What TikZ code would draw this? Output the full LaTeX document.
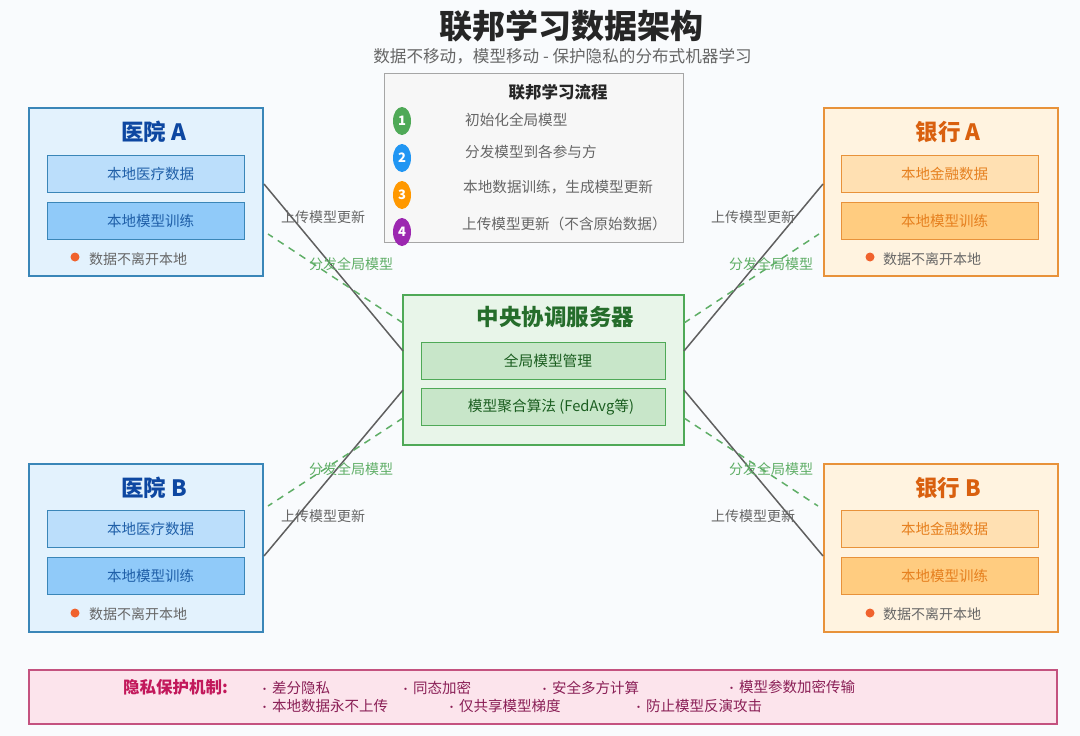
\documentclass[tikz,border=0pt]{standalone}
\usepackage{fontspec}
\setmainfont{Noto Sans CJK SC}
\usetikzlibrary{shapes.geometric}
\definecolor{bgc}{HTML}{F9FBFD}
\definecolor{bluebd}{HTML}{3A86B8}\definecolor{bluefl}{HTML}{E3F2FD}\definecolor{bluea}{HTML}{BBDEFB}\definecolor{blueb}{HTML}{90CAF9}\definecolor{bluet}{HTML}{0D47A1}\definecolor{blueit}{HTML}{1F5FA8}
\definecolor{orbd}{HTML}{E8923A}\definecolor{orfl}{HTML}{FFF3E0}\definecolor{ora}{HTML}{FFE0B2}\definecolor{orb}{HTML}{FFCC80}\definecolor{ort}{HTML}{D9600F}\definecolor{orit}{HTML}{E6801F}
\definecolor{grbd}{HTML}{4FA957}\definecolor{grfl}{HTML}{E8F5E9}\definecolor{gra}{HTML}{C8E6C9}\definecolor{grt}{HTML}{1B5E20}
\definecolor{pkbd}{HTML}{C4527F}\definecolor{pkfl}{HTML}{FCE4EC}\definecolor{pkt}{HTML}{C2185B}\definecolor{pkit}{HTML}{8A1F56}
\definecolor{greyt}{HTML}{666666}\definecolor{lnc}{HTML}{5F5F5F}\definecolor{dashc}{HTML}{5FAE66}\definecolor{notec}{HTML}{F0622D}
\definecolor{stepb}{HTML}{2196F3}\definecolor{stepo}{HTML}{FF9800}\definecolor{stepp}{HTML}{9C27B0}
\newcommand{\privbullet}{\makebox[10pt][l]{\hspace{-3pt}\fontsize{11}{11}\selectfont•}}
\tikzset{
  txt/.style={inner sep=0pt,font=\fontsize{#1}{#1}\selectfont},
  outerbox/.style={draw=#1,line width=2pt,minimum width=234pt,minimum height=168pt,inner sep=0pt},
  innerbox/.style={draw=#1,line width=0.9pt,minimum width=197pt,minimum height=37pt,inner sep=0pt},
  srvbox/.style={draw=grbd,fill=gra,line width=0.8pt,minimum width=244pt,minimum height=37pt,inner sep=0pt},
  inlab/.style={txt=14.5},
  srvlab/.style={txt=14.7,text=grt},
  upline/.style={draw=lnc,line width=1.5pt},
  downline/.style={draw=dashc,line width=1.5pt,dash pattern=on 7pt off 6pt},
  uplab/.style={txt=14,text=greyt},
  downlab/.style={txt=14,text=dashc},
  titlelab/.style={inner sep=0pt,font=\fontsize{22.5}{22.5}\selectfont\bfseries},
  notedot/.style={circle,fill=notec,minimum size=9pt,inner sep=0pt},
  stepdot/.style={ellipse,minimum width=18pt,minimum height=28pt,inner sep=0pt,text=white,font=\fontsize{13}{13}\selectfont\bfseries},
  steplab/.style={txt=14.6,text=greyt,anchor=west},
  privlab/.style={txt=14.5,text=pkit,anchor=west},
}
\begin{document}
\begin{tikzpicture}[x=1pt,y=-1pt]
\useasboundingbox (0,0) rectangle (1080,736);
\fill[bgc] (0,0) rectangle (1080,736);

\node[inner sep=0pt,font=\fontsize{33}{33}\selectfont\bfseries,text=black!85] (title) at (571,26) {联邦学习数据架构};
\node[txt=16.6,text=greyt] (subtitle) at (562.5,56) {数据不移动，模型移动 - 保护隐私的分布式机器学习};

% flow box
\node[draw=black!35,fill=black!3,line width=1pt,minimum width=299pt,minimum height=169pt,inner sep=0pt] (flow) at (533.5,157.5) {};
\node[inner sep=0pt,font=\fontsize{16.5}{16.5}\selectfont\bfseries,text=black!85] (flowt) at (558,92) {联邦学习流程};
\node[stepdot,fill=grbd] (s1) at (402,121) {1};
\node[stepdot,fill=stepb] (s2) at (402,158) {2};
\node[stepdot,fill=stepo] (s3) at (402,195) {3};
\node[stepdot,fill=stepp] (s4) at (402,232) {4};
\node[steplab] (l1) at (465,120) {初始化全局模型};
\node[steplab] (l2) at (465,152) {分发模型到各参与方};
\node[steplab] (l3) at (463,187) {本地数据训练，生成模型更新};
\node[steplab] (l4) at (462,224) {上传模型更新（不含原始数据）};

% parties
\node[outerbox=bluebd,fill=bluefl] (ha) at (146,192) {};
\node[outerbox=bluebd,fill=bluefl] (hb) at (146,547.5) {};
\node[outerbox=orbd,fill=orfl] (ba) at (940.5,192) {};
\node[outerbox=orbd,fill=orfl] (bb) at (940.5,547.5) {};

\node[titlelab,text=bluet] (hat) at (154,132) {医院 A};
\node[innerbox=bluebd,fill=bluea] (ha1) at (145.5,173.5) {};
\node[innerbox=bluebd,fill=blueb] (ha2) at (145.5,220.5) {};
\node[inlab,text=blueit] (ha1t) at (150.5,174) {本地医疗数据};
\node[inlab,text=blueit] (ha2t) at (150.5,221) {本地模型训练};
\node[notedot] (had) at (75,257) {};
\node[txt=14,text=greyt] (han) at (138,259) {数据不离开本地};

\node[titlelab,text=bluet] (hbt) at (154,488) {医院 B};
\node[innerbox=bluebd,fill=bluea] (hb1) at (145.5,528.5) {};
\node[innerbox=bluebd,fill=blueb] (hb2) at (145.5,575.5) {};
\node[inlab,text=blueit] (hb1t) at (150.5,529) {本地医疗数据};
\node[inlab,text=blueit] (hb2t) at (150.5,576) {本地模型训练};
\node[notedot] (hbd) at (75,613) {};
\node[txt=14,text=greyt] (hbn) at (138,614) {数据不离开本地};

\node[titlelab,text=ort] (bat) at (948,132) {银行 A};
\node[innerbox=orbd,fill=ora] (ba1) at (940,173.5) {};
\node[innerbox=orbd,fill=orb] (ba2) at (940,220.5) {};
\node[inlab,text=orit] (ba1t) at (944.5,174) {本地金融数据};
\node[inlab,text=orit] (ba2t) at (944.5,221) {本地模型训练};
\node[notedot] (bad) at (870,257) {};
\node[txt=14,text=greyt] (ban) at (932,259) {数据不离开本地};

\node[titlelab,text=ort] (bbt) at (948,488) {银行 B};
\node[innerbox=orbd,fill=ora] (bb1) at (940,528.5) {};
\node[innerbox=orbd,fill=orb] (bb2) at (940,575.5) {};
\node[inlab,text=orit] (bb1t) at (944.5,529) {本地金融数据};
\node[inlab,text=orit] (bb2t) at (944.5,576) {本地模型训练};
\node[notedot] (bbd) at (870,613) {};
\node[txt=14,text=greyt] (bbn) at (932,614) {数据不离开本地};

% server
\node[draw=grbd,fill=grfl,line width=2.5pt,minimum width=281pt,minimum height=150pt,inner sep=0pt] (srv) at (543.5,370) {};
\node[titlelab,text=grt!80!grbd] (srvt) at (555.5,317) {中央协调服务器};
\node[srvbox] (srv1) at (543,360.5) {};
\node[srvbox] (srv2) at (543,406.5) {};
\node[srvlab] (srv1t) at (548,361) {全局模型管理};
\node[srvlab] (srv2t) at (551,407) {模型聚合算法 (FedAvg等)};

% connector ends
\coordinate (haU) at (264,184); \coordinate (haD) at (268,234);
\coordinate (hbU) at (264,556); \coordinate (hbD) at (268,506);
\coordinate (baU) at (823,184); \coordinate (baD) at (819,234);
\coordinate (bbU) at (823,556); \coordinate (bbD) at (818,506);
\coordinate (sUa) at (403,351); \coordinate (sDa) at (403,323);
\coordinate (sUb) at (403,390); \coordinate (sDb) at (403,418);
\coordinate (sUc) at (684,351); \coordinate (sDc) at (684,323);
\coordinate (sUd) at (684,390); \coordinate (sDd) at (684,418);

\draw[upline] (haU) -- (sUa);
\draw[downline] (sDa) -- (haD);
\draw[upline] (hbU) -- (sUb);
\draw[downline] (sDb) -- (hbD);
\draw[upline] (baU) -- (sUc);
\draw[downline] (sDc) -- (baD);
\draw[upline] (bbU) -- (sUd);
\draw[downline] (sDd) -- (bbD);

\node[uplab] (u1) at (323,217) {上传模型更新};
\node[downlab] (d1) at (351,264) {分发全局模型};
\node[uplab] (u2) at (753,217) {上传模型更新};
\node[downlab] (d2) at (771,264) {分发全局模型};
\node[downlab] (d3) at (351,469) {分发全局模型};
\node[uplab] (u3) at (323,516) {上传模型更新};
\node[downlab] (d4) at (771,469) {分发全局模型};
\node[uplab] (u4) at (753,516) {上传模型更新};

% privacy
\node[draw=pkbd,fill=pkfl,line width=2pt,minimum width=1028pt,minimum height=54pt,inner sep=0pt] (priv) at (543,697) {};
\node[inner sep=0pt,font=\fontsize{16.5}{16.5}\selectfont\bfseries,text=pkt] (privt) at (175.5,687) {隐私保护机制:};
\node[privlab] (p1) at (262,688) {\privbullet 差分隐私};
\node[privlab] (p2) at (403,688) {\privbullet 同态加密};
\node[privlab] (p3) at (542,688) {\privbullet 安全多方计算};
\node[privlab] (p4) at (729,687) {\privbullet 模型参数加密传输};
\node[privlab] (p5) at (262,706) {\privbullet 本地数据永不上传};
\node[privlab] (p6) at (449,706) {\privbullet 仅共享模型梯度};
\node[privlab] (p7) at (636,706) {\privbullet 防止模型反演攻击};
\end{tikzpicture}
\end{document}
